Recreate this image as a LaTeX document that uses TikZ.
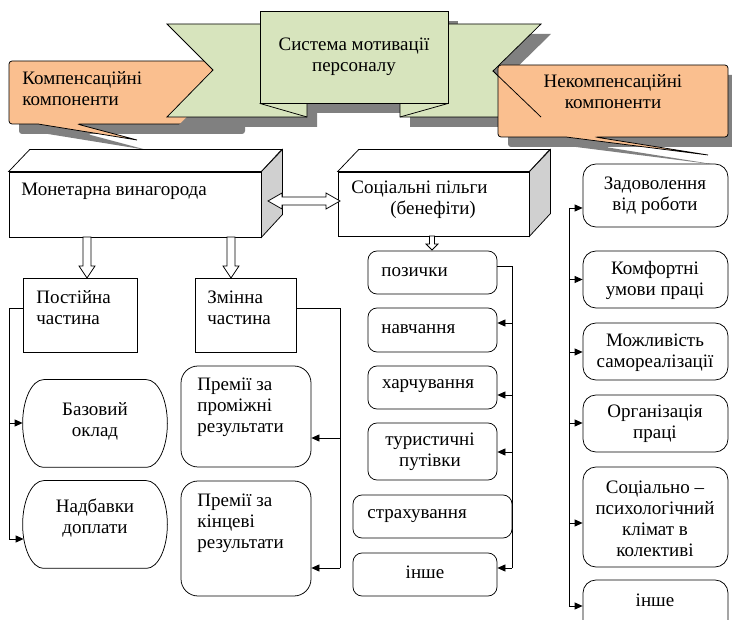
\documentclass[tikz,border=0pt]{standalone}
\usepackage{fontspec}
\setmainfont{Liberation Serif}
\usetikzlibrary{arrows.meta,calc}
\definecolor{ribbongreen}{HTML}{D7E4BD}
\definecolor{calloutorange}{HTML}{FABF8F}
\definecolor{shadowgray}{HTML}{808080}
\definecolor{sidegray}{HTML}{D0D0D0}
% hollow block arrow pointing down: from #1 to #2, half shaft #3, half head #4, head length #5
\newcommand\hollowdown[5]{%
  \draw[hollow] let \p1=(#1), \p2=(#2) in
    (\x1-#3,\y1) -- (\x1-#3,\y2+#5) -- (\x1-#4,\y2+#5) -- (\x1,\y2)
    -- (\x1+#4,\y2+#5) -- (\x1+#3,\y2+#5) -- (\x1+#3,\y1) -- cycle;}
% hollow horizontal double-headed block arrow between #1 and #2
\newcommand\hollowboth[5]{%
  \draw[hollow] let \p1=(#1), \p2=(#2) in
    (\x1,\y1) -- (\x1+#5,\y1+#4) -- (\x1+#5,\y1+#3) -- (\x2-#5,\y1+#3)
    -- (\x2-#5,\y1+#4) -- (\x2,\y1) -- (\x2-#5,\y1-#4) -- (\x2-#5,\y1-#3)
    -- (\x1+#5,\y1-#3) -- (\x1+#5,\y1-#4) -- cycle;}
% frame with half-elliptic ends around node #1
\newcommand\stadiumframe[1]{%
  \draw[fill=white] let \p1=(#1.north west), \p2=(#1.south east), \n1={(\y1-\y2)/2} in
    (\x1+21pt,\y1) -- (\x2-21pt,\y1)
    arc[start angle=90, end angle=-90, x radius=21pt, y radius=\n1]
    -- (\x1+21pt,\y2)
    arc[start angle=270, end angle=90, x radius=21pt, y radius=\n1] -- cycle;}
\begin{document}
\begin{tikzpicture}[x=1pt,y=-1pt,line width=0.75pt,
  font=\fontsize{19}{21}\selectfont,
  >={Triangle[length=8pt,width=7pt]},
  box/.style={draw, fill=white, inner sep=0pt},
  softbox/.style={box, rounded corners=9pt},
  sidebox/.style={box, rounded corners=13pt},
  bigbox/.style={box, rounded corners=17pt},
  txt/.style={inner sep=0pt, align=left},
  ctxt/.style={inner sep=0pt, align=center},
  hollow/.style={draw, fill=white, line join=miter},
  link/.style={draw, line width=0.75pt},
]
\path[use as bounding box] (0,0) rectangle (732,620);
\clip (0,0) rectangle (732,620);

% ---- left callout (behind the ribbon)
\fill[shadowgray, shift={(10,10)}] (9,61) [rounded corners=3pt] -- (235,61) -- (235,124) -- (77,124)
  [sharp corners] -- (137,140) -- (38,124) [rounded corners=3pt] -- (9,124) -- cycle;
\draw[fill=calloutorange] (9,61) [rounded corners=3pt] -- (235,61) -- (235,124) -- (77,124)
  [sharp corners] -- (137,140) -- (38,124) [rounded corners=3pt] -- (9,124) -- cycle;
\node[txt, anchor=west] (lcallT) at (22,89) {Компенсаційні\\компоненти};

% ---- ribbon
\begin{scope}[shift={(10,10)}]
  \fill[shadowgray] (167,24) -- (307,24) -- (307,117) -- (167,117) -- (213,70) -- cycle;
  \fill[shadowgray] (400,24) -- (541,24) -- (493,71) -- (541,117) -- (400,117) -- cycle;
  \fill[shadowgray] (260,11) rectangle (448,103);
\end{scope}
\draw[fill=ribbongreen] (167,24) -- (307,24) -- (307,117) -- (167,117) -- (213,70) -- cycle;
\draw[fill=ribbongreen] (400,24) -- (541,24) -- (493,71) -- (541,117) -- (400,117) -- cycle;
\node[draw, fill=ribbongreen, minimum width=188pt, minimum height=92pt, inner sep=0pt, align=center]
  (title) at (354,57) {Система мотивації\\персоналу};
\draw (title.south west) -- (307,117);
\draw (title.south east) -- (400,117);

% ---- right callout (in front of the ribbon)
\fill[shadowgray, shift={(10,10)}] (498,65) [rounded corners=3pt] -- (728,65) -- (728,137) -- (595,137)
  [sharp corners] -- (708,155) -- (566,137) [rounded corners=3pt] -- (498,137) -- cycle;
\draw[fill=calloutorange] (498,65) [rounded corners=3pt] -- (728,65) -- (728,137) -- (595,137)
  [sharp corners] -- (708,155) -- (566,137) [rounded corners=3pt] -- (498,137) -- cycle;
\draw (493,71) -- (541,117);
\node[ctxt] (rcallT) at (613,92) {Некомпенсаційні\\компоненти};

% ---- block "Монетарна винагорода"
\node[box, minimum width=252pt, minimum height=65pt] (mon) at (135,204.5) {};
\draw[fill=white] (mon.north west) -- ++(21,-22) -- ++(252,0) -- (mon.north east) -- cycle;
\draw[fill=sidegray] (mon.north east) -- ++(21,-22) -- ++(0,65) -- (mon.south east) -- cycle;
\node[txt, anchor=west] (monT) at (21,191) {Монетарна винагорода};

% ---- block "Соціальні пільги"
\node[box, minimum width=191pt, minimum height=64pt] (soc) at (433.5,204) {};
\draw[fill=white] (soc.north west) -- ++(21,-22) -- ++(191,0) -- (soc.north east) -- cycle;
\draw[fill=sidegray] (soc.north east) -- ++(21,-22) -- ++(0,64) -- (soc.south east) -- cycle;
\node[txt, anchor=west] (socT) at (351,200) {Соціальні пільги\\\hspace*{39pt}(бенефіти)};

% ---- pay parts
\node[box, minimum width=114pt, minimum height=74pt] (post) at (80,315) {};
\node[txt, anchor=west] (postT) at (36,308) {Постійна\\частина};
\node[box, minimum width=101pt, minimum height=74pt] (zmin) at (245.5,315) {};
\node[txt, anchor=west] (zminT) at (207,308) {Змінна\\частина};

\node[inner sep=0pt, minimum width=144pt, minimum height=87pt] (baz) at (95,423.5) {};
\stadiumframe{baz}
\node[ctxt] (bazT) at (95,421) {Базовий\\оклад};
\node[inner sep=0pt, minimum width=144pt, minimum height=87pt] (nad) at (95,524.5) {};
\stadiumframe{nad}
\node[ctxt] (nadT) at (95,518) {Надбавки\\доплати};

\node[bigbox, minimum width=130pt, minimum height=101pt] (prem1) at (246,416.5) {};
\node[txt, anchor=west] (prem1T) at (197,407.5) {Премії за\\проміжні\\результати};
\node[bigbox, minimum width=130pt, minimum height=115pt] (prem2) at (246,538.5) {};
\node[txt, anchor=west] (prem2T) at (197,523) {Премії за\\кінцеві\\результати};

% ---- benefits
\node[softbox, minimum width=129pt, minimum height=43pt] (poz) at (432.5,272.5) {};
\node[txt, anchor=west] (pozT) at (381,272) {позички};
\node[softbox, minimum width=129pt, minimum height=44pt] (navch) at (432.5,330) {};
\node[txt, anchor=west] (navchT) at (381,329) {навчання};
\node[softbox, minimum width=129pt, minimum height=43pt] (harch) at (432.5,387.5) {};
\node[ctxt] (harchT) at (428,386) {харчування};
\node[softbox, minimum width=129pt, minimum height=57pt] (tur) at (432.5,451.5) {};
\node[ctxt] (turT) at (430,452) {туристичні\\путівки};
\node[softbox, minimum width=159pt, minimum height=43pt] (strah) at (432.5,516.5) {};
\node[txt, anchor=west] (strahT) at (367,516) {страхування};
\node[softbox, minimum width=144pt, minimum height=43pt] (insh1) at (425,574.5) {};
\node[ctxt] (insh1T) at (425,572) {інше};

% ---- non-monetary components
\node[sidebox, minimum width=145pt, minimum height=63pt] (zad) at (655.5,195.5) {};
\node[ctxt] (zadT) at (655,196) {Задоволення\\від роботи};
\node[sidebox, minimum width=145pt, minimum height=57pt] (komf) at (655.5,279.5) {};
\node[ctxt] (komfT) at (655,280) {Комфортні\\умови праці};
\node[sidebox, minimum width=145pt, minimum height=57pt] (mozh) at (655.5,351.5) {};
\node[ctxt] (mozhT) at (655,353) {Можливість\\самореалізації};
\node[sidebox, minimum width=145pt, minimum height=57pt] (org) at (655.5,423.5) {};
\node[ctxt] (orgT) at (655,424) {Організація\\праці};
\node[sidebox, minimum width=145pt, minimum height=100pt] (soc2) at (655.5,517) {};
\node[ctxt] (soc2T) at (655,519) {Соціально –\\психологічний\\клімат в\\колективі};
\node[sidebox, minimum width=145pt, minimum height=60pt] (insh2) at (655.5,610) {};
\node[ctxt] (insh2T) at (655,600) {інше};

% ---- block arrows
\coordinate (h1a) at (87,237);  \coordinate (h1b) at (87,278);
\coordinate (h2a) at (231,237); \coordinate (h2b) at (231,278);
\coordinate (h3a) at (432,236); \coordinate (h3b) at (432,250);
\coordinate (d1) at (268,201);  \coordinate (d2) at (340,201);
\hollowdown{h1a}{h1b}{4pt}{8pt}{12pt}
\hollowdown{h2a}{h2b}{4pt}{8pt}{12pt}
\hollowdown{h3a}{h3b}{2.5pt}{6pt}{6pt}
\hollowboth{d1}{d2}{4pt}{8pt}{14pt}

% ---- connectors: fixed part
\coordinate (lb0) at (9,308); \coordinate (lb1) at (9,423); \coordinate (lb2) at (9,539);
\draw[link] (lb0 -| post.west) -- (lb0) -- (lb2);
\draw[link,->] (lb1) -- (lb1 -| baz.west);
\draw[link,->] (lb2) -- ([xshift=1pt]lb2 -| nad.west);

% ---- connectors: variable part
\coordinate (vb0) at (340,308); \coordinate (vb1) at (340,438); \coordinate (vb2) at (340,568);
\draw[link] (vb0 -| zmin.east) -- (vb0) -- (vb2);
\draw[link,->] (vb1) -- (vb1 -| prem1.east);
\draw[link,->] (vb2) -- (vb2 -| prem2.east);

% ---- connectors: benefits
\coordinate (mb0) at (512,266); \coordinate (mb1) at (512,323); \coordinate (mb2) at (512,395);
\coordinate (mb3) at (512,452); \coordinate (mb4) at (512,568);
\draw[link] (mb0 -| poz.east) -- (mb0) -- (mb4);
\draw[link,->] (mb1) -- (mb1 -| navch.east);
\draw[link,->] (mb2) -- (mb2 -| harch.east);
\draw[link,->] (mb3) -- (mb3 -| tur.east);
\draw[link,->] (mb4) -- (mb4 -| insh1.east);

% ---- connectors: non-monetary
\coordinate (rb0) at (569,208); \coordinate (rb1) at (569,279.5); \coordinate (rb2) at (569,352);
\coordinate (rb3) at (569,423); \coordinate (rb4) at (569,523); \coordinate (rb5) at (569,606);
\draw[link] (rb0) -- (rb5);
\draw[link,->] (rb0) -- (rb0 -| zad.west);
\draw[link,->] (rb1) -- (rb1 -| komf.west);
\draw[link,->] (rb2) -- (rb2 -| mozh.west);
\draw[link,->] (rb3) -- (rb3 -| org.west);
\draw[link,->] (rb4) -- (rb4 -| soc2.west);
\draw[link,->] (rb5) -- (rb5 -| insh2.west);
\end{tikzpicture}
\end{document}
